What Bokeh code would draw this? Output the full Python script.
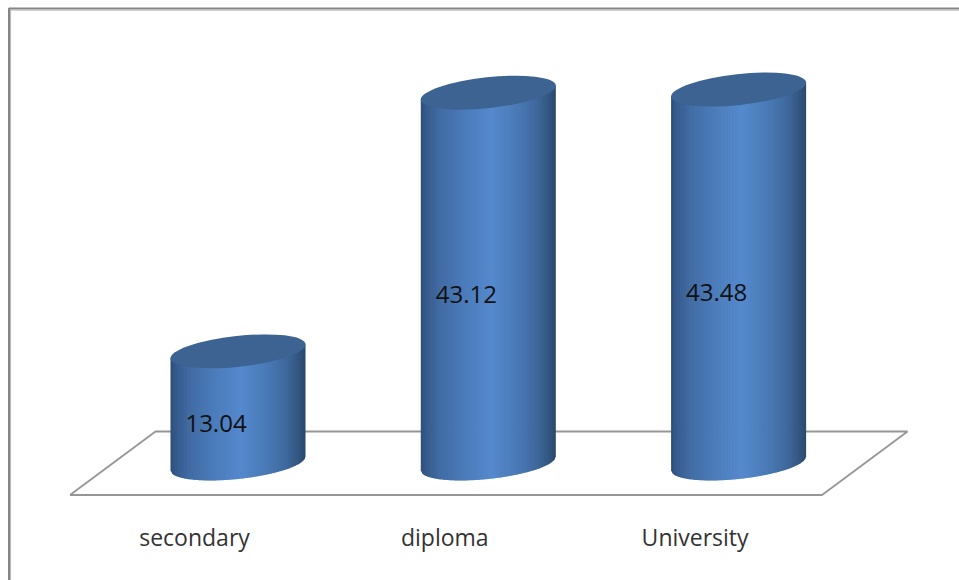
from bokeh.core.properties import value
from bokeh.embed import file_html
from bokeh.models import Range1d
from bokeh.plotting import figure
from bokeh.resources import INLINE
import math

# Chart data
categories = ["secondary", "diploma", "University"]
percentages = [13.04, 43.12, 43.48]

W, H = 959, 580
# Scale layout: pixels per category step and per percentage point
STEP = 250.3
UNIT = 8.6
X0, Y0 = 237.5, 463.0

p = figure(
    width=W, height=H, output_backend="svg", toolbar_location=None,
    x_range=Range1d(-X0 / STEP, (W - X0) / STEP),
    y_range=Range1d((Y0 - H) / UNIT, Y0 / UNIT),
    min_border=0, outline_line_color=None,
    background_fill_color="white", border_fill_color="white",
)
p.axis.visible = False
p.grid.visible = False


def dx(px):
    return px / STEP


def dy(px):
    return px / UNIT


def x_at(px):
    return (px - X0) / STEP


def y_at(px):
    return (Y0 - px) / UNIT


# Outer frame: dark stroke with a lighter inner edge
for offset, colour in ((0.0, "#858585"), (1.6, "#b4b4b4")):
    p.line([x_at(8.5 + offset), x_at(8.5 + offset), x_at(W)],
           [y_at(H), y_at(8.0 + offset), y_at(8.0 + offset)],
           line_color=colour, line_width=2 if offset == 0 else 1)

# Floor of the 3D plot
p.line([x_at(69.5), x_at(155), x_at(907), x_at(821.5), x_at(69.5)],
       [y_at(494.5), y_at(431), y_at(431), y_at(494.5), y_at(494.5)],
       line_color="#969696", line_width=1.8)

# Cylinder geometry: tilted ellipse caps
A, B = 67.9, 15.4
TILT = math.radians(6.2)
HALF_W = math.sqrt((A * math.cos(TILT)) ** 2 + (B * math.sin(TILT)) ** 2)
# Rise of the ellipse's widest points per pixel from the centre
CHORD = (A ** 2 - B ** 2) * math.sin(TILT) * math.cos(TILT) / HALF_W ** 2


def lower_edge(off):
    """Pixel offset of the lower half of the tilted ellipse, upward positive."""
    c, s = math.cos(TILT), math.sin(TILT)
    qa = (c / A) ** 2 + (s / B) ** 2
    qb = 2 * c * s * (1 / A ** 2 - 1 / B ** 2)
    qc = (s / A) ** 2 + (c / B) ** 2
    disc = (qb * off) ** 2 - 4 * qc * (qa * off * off - 1)
    return (-qb * off - math.sqrt(max(disc, 0))) / (2 * qc)


# Horizontal shading of the cylinder wall
SHADE = [
    (0.00, (46, 78, 122)),
    (0.05, (55, 92, 142)),
    (0.14, (65, 107, 163)),
    (0.30, (74, 122, 184)),
    (0.52, (84, 137, 205)),
    (0.72, (73, 121, 181)),
    (0.86, (62, 104, 156)),
    (0.95, (50, 85, 127)),
    (1.00, (43, 71, 108)),
]


def shade(t):
    for (t0, c0), (t1, c1) in zip(SHADE, SHADE[1:]):
        if t <= t1:
            k = (t - t0) / (t1 - t0)
            return "#%02x%02x%02x" % tuple(round(a + (b - a) * k) for a, b in zip(c0, c1))
    return "#%02x%02x%02x" % SHADE[-1][1]


STRIP = 1.5
for i, v in enumerate(percentages):
    xs, ys, cols = [], [], []
    n = int(2 * HALF_W / STRIP)
    for k in range(n):
        l = -HALF_W + k * STRIP
        r = min(l + STRIP + 0.7, HALF_W)
        xs.append([i + dx(l), i + dx(r), i + dx(r), i + dx(l)])
        ys.append([v + dy(CHORD * l), v + dy(CHORD * r), dy(lower_edge(r)), dy(lower_edge(l))])
        cols.append(shade((l + STRIP / 2 + HALF_W) / (2 * HALF_W)))
    p.patches(xs, ys, fill_color=cols, line_color=None)

# Top caps, sized in screen units
p.ellipse(list(range(len(percentages))), percentages,
          width=2 * A, height=2 * B, width_units="screen", height_units="screen",
          angle=TILT, fill_color="#3c6391", line_color=None)

# Value labels inside the cylinders
p.text([i + dx(-22) for i in range(len(percentages))],
       [v / 2 - dy(16) for v in percentages],
       text=[f"{v:.2f}" for v in percentages],
       text_font=value("Open Sans"), text_font_size="24px",
       text_color="#111111", text_align="center", text_baseline="middle")

# Category labels under the floor
p.text([i + dx(-43.5) for i in range(len(categories))], [y_at(536.5)] * len(categories),
       text=categories,
       text_font=value("Open Sans"), text_font_size="23px",
       text_color="#333333", text_align="center", text_baseline="middle")

open("out.html", "w").write(file_html(p, INLINE))
